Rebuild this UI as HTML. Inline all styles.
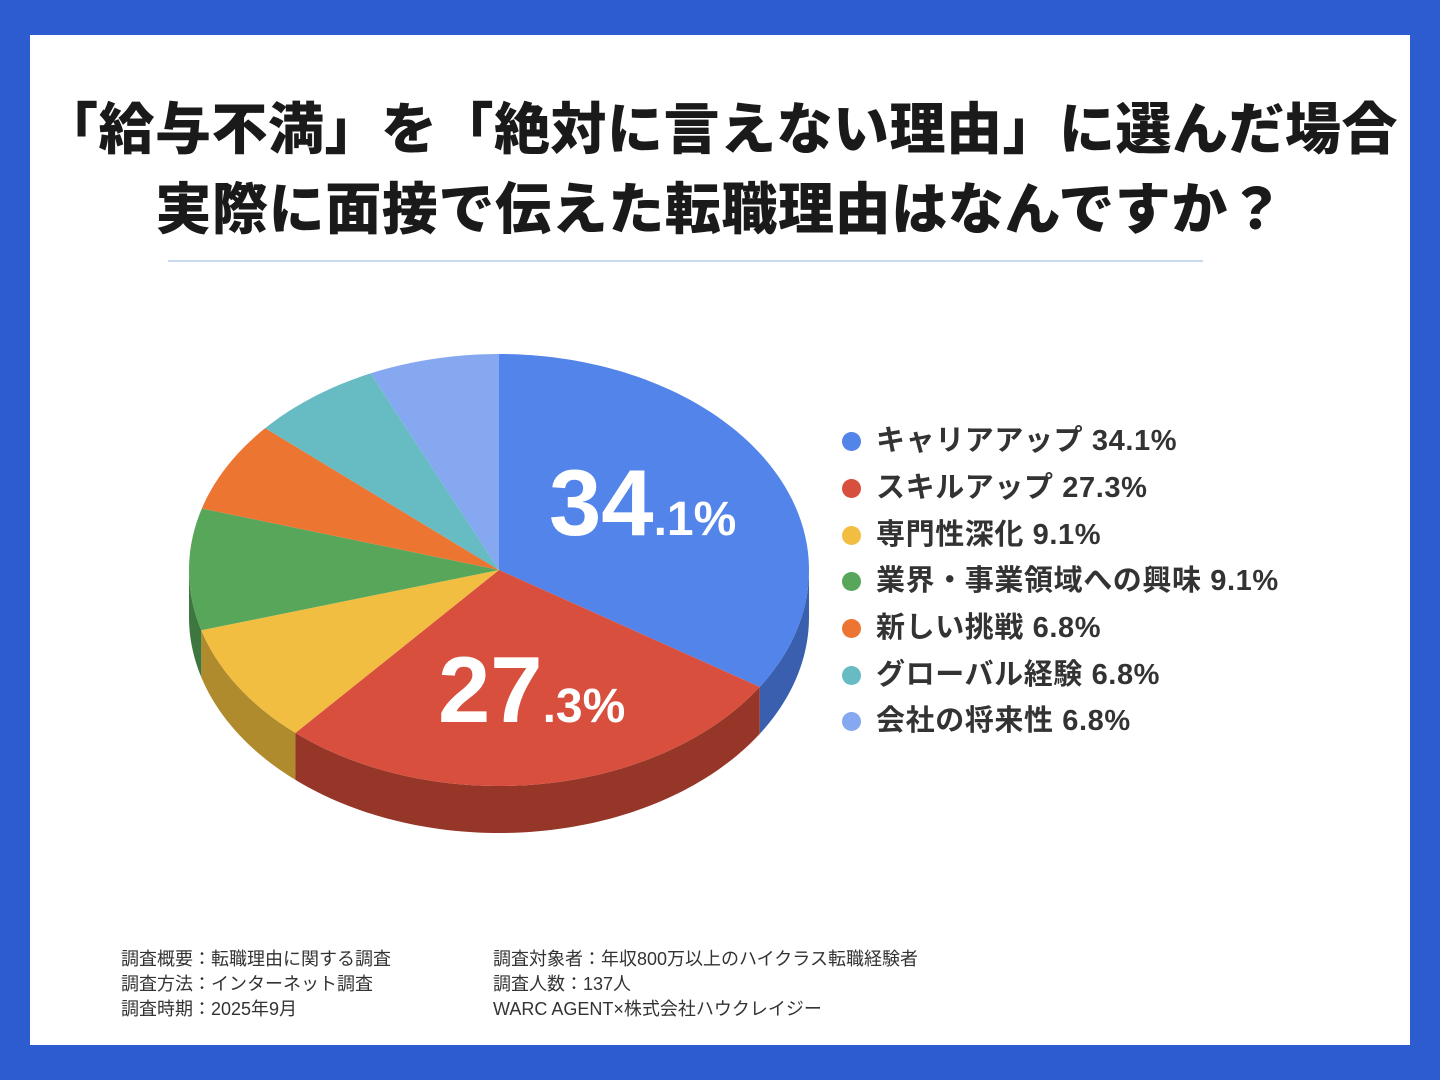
<!DOCTYPE html>
<html><head><meta charset="utf-8"><style>
html,body{margin:0;padding:0}
body{width:1440px;height:1080px;background:#2D5BD0;position:relative;overflow:hidden;font-family:"Liberation Sans","Noto Sans CJK JP",sans-serif}
#card{position:absolute;left:30px;top:35px;width:1380px;height:1010px;background:#fff}
.t{position:absolute;left:0;width:1440px;text-align:center;font-weight:900;font-size:56px;color:#1a1a1a;line-height:1;white-space:nowrap}
#sep{position:absolute;left:168px;top:260px;width:1035px;height:2px;background:#C9DAF0}
.lg{position:absolute;left:842px;font-size:29px;font-weight:700;color:#333;line-height:1;white-space:nowrap;letter-spacing:0.6px}
.lg i{display:inline-block;width:19px;height:19px;border-radius:50%;margin-right:15px;vertical-align:-1px}
.f{position:absolute;font-size:18px;color:#333;line-height:25px;white-space:nowrap}
</style></head><body>
<div id="card"></div>
<div class="t" style="top:102px;letter-spacing:0.5px">「給与不満」を「絶対に言えない理由」に選んだ場合</div>
<div class="t" style="top:182px;letter-spacing:0.6px">実際に面接で伝えた転職理由はなんですか？</div>
<div id="sep"></div>
<svg id="pie" width="1440" height="1080" style="position:absolute;left:0;top:0"></svg>
<div class="lg" style="top:427px"><i style="background:#5284EA"></i>キャリアアップ 34.1%</div>
<div class="lg" style="top:474px"><i style="background:#D94F3D"></i>スキルアップ 27.3%</div>
<div class="lg" style="top:521px"><i style="background:#F1BE42"></i>専門性深化 9.1%</div>
<div class="lg" style="top:567px"><i style="background:#58A65A"></i>業界・事業領域への興味 9.1%</div>
<div class="lg" style="top:614px"><i style="background:#EC7532"></i>新しい挑戦 6.8%</div>
<div class="lg" style="top:661px"><i style="background:#67BBC3"></i>グローバル経験 6.8%</div>
<div class="lg" style="top:707px"><i style="background:#86A8F0"></i>会社の将来性 6.8%</div>
<div class="f" style="left:121px;top:947px">調査概要：転職理由に関する調査<br>調査方法：インターネット調査<br>調査時期：2025年9月</div>
<div class="f" style="left:493px;top:947px">調査対象者：年収800万以上のハイクラス転職経験者<br>調査人数：137人<br>WARC AGENT×株式会社ハウクレイジー</div>
<script>
var cx=499,cy=570,rx=310,ry=216,d=47;
var data=[[34.1,"#5284EA","#3A5FAF"],[27.3,"#D94F3D","#963628"],[9.1,"#F1BE42","#B08B2E"],[9.1,"#58A65A","#3E763F"],[6.8,"#EC7532","#A8531F"],[6.8,"#67BBC3","#4A8A90"],[6.8,"#86A8F0","#6079AF"]];
function P(a,dy){a=a*Math.PI/180;return [(cx+rx*Math.sin(a)).toFixed(2),(cy-ry*Math.cos(a)+(dy||0)).toFixed(2)];}
var s="",a0=0,tops="";
data.forEach(function(x){var a1=a0+x[0]*3.6;
 var lo=Math.max(a0,90),hi=Math.min(a1,270);
 if(hi>lo){var p="M"+P(lo);for(var a=lo;a<=hi;a+=1)p+=" L"+P(a);p+=" L"+P(hi);for(var a=hi;a>=lo;a-=1)p+=" L"+P(a,d);p+=" L"+P(lo,d)+"Z";s+='<path d="'+p+'" fill="'+x[2]+'"/>';}
 var p="M"+cx+","+cy+" L"+P(a0);for(var a=a0;a<=a1;a+=1)p+=" L"+P(a);p+=" L"+P(a1)+"Z";
 tops+='<path d="'+p+'" fill="'+x[1]+'"/>';a0=a1;});
s+=tops;
s+='<text x="549" y="535" fill="#fff" font-family="Liberation Sans, sans-serif" font-weight="700" font-size="94">34<tspan font-size="48">.1%</tspan></text>';
s+='<text x="438" y="722" fill="#fff" font-family="Liberation Sans, sans-serif" font-weight="700" font-size="94">27<tspan font-size="48">.3%</tspan></text>';
document.getElementById("pie").innerHTML=s;
</script>
</body></html>
